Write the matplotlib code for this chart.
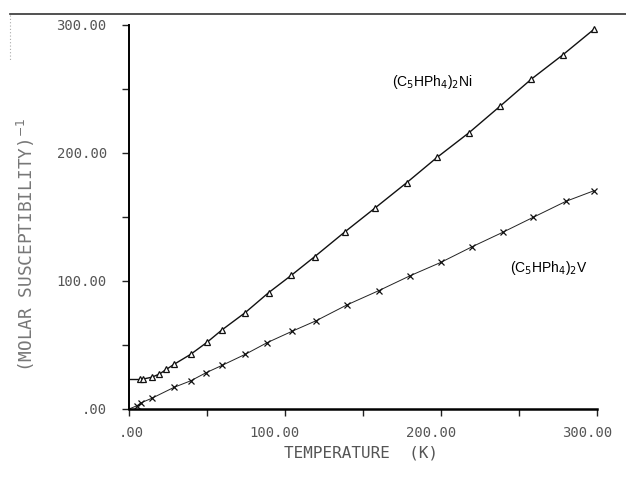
import matplotlib
matplotlib.use("Agg")
import matplotlib.pyplot as plt
from matplotlib.lines import Line2D
from matplotlib.ticker import MultipleLocator, FixedFormatter, FixedLocator
import matplotlib.transforms as mtransforms

# (C5HPh4)2Ni, open triangles
ni_temp = [7, 9, 14.5, 19.5, 24, 29, 39.5, 50, 59.5, 74.5, 89.5, 104, 119,
           138.5, 158, 178, 197.5, 218, 238, 258, 278, 298]
ni_inv_chi = [23.4, 23.4, 24.8, 27.3, 31, 35, 42.7, 52.1, 61.7, 75.3, 90.9,
              104.4, 119, 138.5, 157.3, 176.8, 196.6, 215.9, 236.7, 257.8,
              276.6, 296.6]

# (C5HPh4)2V, crosses
v_temp = [5, 8, 14.5, 29, 39.5, 49.5, 59.5, 74.5, 88.5, 104.5, 120, 140, 160,
          180, 200, 220, 239.5, 259, 280, 298]
v_inv_chi = [2.5, 5, 8.3, 17, 22, 28.4, 34, 42.7, 51.8, 60.7, 69, 81.5, 92.4,
             104, 114.6, 126.8, 138, 149.7, 162.2, 170.5]
# fitted line for V runs back to the origin
v_fit_temp = [0] + v_temp
v_fit_chi = [0] + v_inv_chi

tick_values = [0, 100, 200, 300]
tick_labels = [".00", "100.00", "200.00", "300.00"]

mono = "DejaVu Sans Mono"
txt_col = "#555555"

fig = plt.figure(figsize=(6.26, 4.88), dpi=100)
ax = fig.add_axes([129 / 626, 1 - 409 / 488, 468 / 626, 384 / 488])

# Ni: flat part from the axis, then the curve through the points
ax.hlines(ni_inv_chi[0], 0, ni_temp[0], color="#111111", lw=1.0)
ax.plot(ni_temp, ni_inv_chi, color="#111111", lw=1.0, marker="^",
        ms=5, mfc="white", mec="#111111", mew=0.9, clip_on=False)
ax.plot(v_fit_temp, v_fit_chi, color="#222222", lw=0.7)
ax.plot(v_temp, v_inv_chi, ls="none", marker="x", ms=5, mec="#111111",
        mew=0.9, clip_on=False)

ax.text(168.5, 255.5, r"(C$_5$HPh$_4$)$_2$Ni", fontsize=10, va="center",
        ha="left", family="Liberation Sans")
ax.text(244.5, 110, r"(C$_5$HPh$_4$)$_2$V", fontsize=10, va="center",
        ha="left", family="Liberation Sans")

ax.set_xlim(0, 300)
ax.set_ylim(0, 300)
for side in ["top", "right"]:
    ax.spines[side].set_visible(False)
ax.spines["left"].set_linewidth(1.4)
ax.spines["bottom"].set_linewidth(1.8)

for axis in [ax.xaxis, ax.yaxis]:
    axis.set_major_locator(FixedLocator(tick_values))
    axis.set_major_formatter(FixedFormatter(tick_labels))
    axis.set_minor_locator(MultipleLocator(50))

ax.tick_params(which="both", direction="out", length=5, width=1.0,
               color="#222222")
ax.tick_params(axis="x", pad=7)
ax.tick_params(axis="y", pad=11)
for lab in ax.get_xticklabels() + ax.get_yticklabels():
    lab.set_family(mono)
    lab.set_fontsize(10)
    lab.set_color(txt_col)

# x tick labels sit right-aligned a bit past each tick
shift = mtransforms.ScaledTranslation(15 / 100, 0, fig.dpi_scale_trans)
for lab in ax.get_xticklabels():
    lab.set_ha("right")
    lab.set_transform(lab.get_transform() + shift)

fig.text(361 / 626, 1 - 453 / 488, "TEMPERATURE  (K)", family=mono,
         fontsize=11.5, color=txt_col, ha="center", va="center")
fig.text(26 / 626, 1 - 245 / 488, r"(MOLAR SUSCEPTIBILITY)$^{-1}$",
         family=mono, fontsize=12.8, color="#777777", rotation=90,
         ha="center", va="center")

# frame line across the top of the scan
fig.add_artist(Line2D([10 / 626, 1], [1 - 14 / 488, 1 - 14 / 488],
                      transform=fig.transFigure, color="#333333", lw=1.2))
fig.add_artist(Line2D([10 / 626, 10 / 626], [1 - 15 / 488, 1 - 60 / 488],
                      transform=fig.transFigure, color="#aaaaaa", lw=0.8,
                      ls=(0, (1, 2))))

fig.savefig("out.png", dpi=100)
